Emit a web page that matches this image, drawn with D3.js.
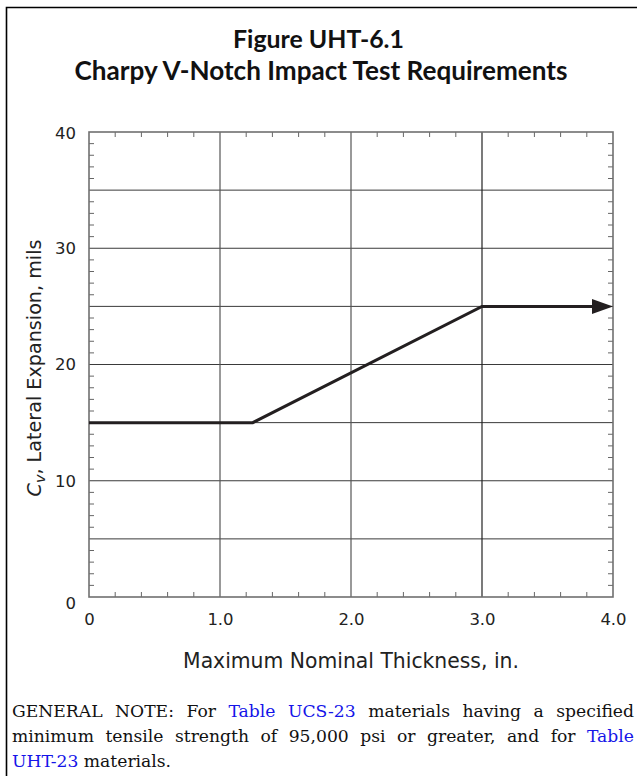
<!DOCTYPE html>
<html><head><meta charset="utf-8">
<script src="https://cdn.jsdelivr.net/npm/d3@7"></script>
<style>body{margin:0;background:#fff;} svg{display:block;}</style>
</head><body>
<script>
// ---- data ----
const titleLines = ["Figure UHT-6.1", "Charpy V-Notch Impact Test Requirements"];
const thickness = [0, 1.25, 3.0, 4.0];          // in.
const lateralExp = [15, 15, 25, 25];            // mils
const xTicks = [0, 1, 2, 3, 4];
const xTickLabels = ["0", "1.0", "2.0", "3.0", "4.0"];
const yTicks = [0, 10, 20, 30, 40];
const yTickLabels = ["0", "10", "20", "30", "40"];
const xGrid = [1, 2, 3];
const yGrid = [5, 10, 15, 20, 25, 30, 35];
const xLabel = "Maximum Nominal Thickness, in.";
const yLabelRest = ", Lateral Expansion, mils";
// note lines: segments [text, isLink]
const noteLine1 = [["GENERAL NOTE: For ", false], ["Table UCS-23", true], [" materials having a specified", false]];
const noteLine2 = [["minimum tensile strength of 95,000 psi or greater, and for ", false], ["Table", true]];
const noteLine3 = [["UHT-23", true], [" materials.", false]];

const W = 637, H = 776;
const svg = d3.select("body").append("svg").attr("width", W).attr("height", H);

svg.append("path").attr("d", `M6.5,${H} V7.5 H${W}`).attr("fill", "none")
  .attr("stroke", "#000").attr("stroke-width", 1.6);

function fit(sel, target) {
  const w = sel.node().getComputedTextLength();
  const fs = +sel.attr("font-size");
  sel.attr("font-size", (fs * target / w).toFixed(2));
}
const titleFont = "Lato, 'Open Sans', sans-serif";
const t1 = svg.append("text").attr("x", 318.5).attr("y", 48).attr("text-anchor", "middle")
  .attr("font-family", titleFont).attr("font-weight", "bold").attr("font-size", 22)
  .attr("fill", "#111").text(titleLines[0]);
const t2 = svg.append("text").attr("x", 321).attr("y", 80).attr("text-anchor", "middle")
  .attr("font-family", titleFont).attr("font-weight", "bold").attr("font-size", 22)
  .attr("fill", "#111").text(titleLines[1]);
fit(t1, 171); fit(t2, 493);

const x = d3.scaleLinear().domain([0, 4]).range([89, 613]);
const y = d3.scaleLinear().domain([0, 40]).range([597, 132]);

const g = svg.append("g");
g.selectAll(".hg").data(yGrid).join("line")
  .attr("x1", x(0)).attr("x2", x(4)).attr("y1", d => y(d)).attr("y2", d => y(d))
  .attr("stroke", "#3a3a3a").attr("stroke-width", 1);
g.selectAll(".vg").data(xGrid).join("line")
  .attr("x1", d => x(d)).attr("x2", d => x(d)).attr("y1", y(0)).attr("y2", y(40))
  .attr("stroke", d => d === 3 ? "#222" : "#555").attr("stroke-width", 1.2);

const xMinor = d3.range(1, 20).map(i => i * 0.2).filter(v => Math.abs(v - Math.round(v)) > 1e-6);
const yMinor = d3.range(1, 40).filter(v => v % 5 !== 0);
const tk = 5, tc = "#666";
g.selectAll(".xb").data(xMinor).join("line")
  .attr("x1", d => x(d)).attr("x2", d => x(d)).attr("y1", y(0)).attr("y2", y(0) - tk)
  .attr("stroke", tc).attr("stroke-width", 1);
g.selectAll(".xt").data(xMinor).join("line")
  .attr("x1", d => x(d)).attr("x2", d => x(d)).attr("y1", y(40)).attr("y2", y(40) + tk)
  .attr("stroke", tc).attr("stroke-width", 1);
g.selectAll(".yl").data(yMinor).join("line")
  .attr("x1", x(0)).attr("x2", x(0) + tk).attr("y1", d => y(d)).attr("y2", d => y(d))
  .attr("stroke", tc).attr("stroke-width", 1);
g.selectAll(".yr").data(yMinor).join("line")
  .attr("x1", x(4)).attr("x2", x(4) - tk).attr("y1", d => y(d)).attr("y2", d => y(d))
  .attr("stroke", tc).attr("stroke-width", 1);

g.append("rect").attr("x", x(0)).attr("y", y(40)).attr("width", x(4) - x(0)).attr("height", y(0) - y(40))
  .attr("fill", "none").attr("stroke", "#707070").attr("stroke-width", 1.6);

const axFont = "'DejaVu Sans', Verdana, sans-serif";
const xAxis = svg.append("g").attr("transform", `translate(0,${y(0)})`)
  .call(d3.axisBottom(x).tickValues(xTicks).tickFormat((d, i) => xTickLabels[i]).tickSize(0).tickPadding(16));
const yAxis = svg.append("g").attr("transform", `translate(${x(0)},0)`)
  .call(d3.axisLeft(y).tickValues(yTicks).tickFormat((d, i) => yTickLabels[i]).tickSize(0).tickPadding(13));
[xAxis, yAxis].forEach(a => {
  a.select(".domain").remove();
  a.selectAll("text").attr("font-family", axFont).attr("font-size", 16.5).attr("fill", "#222");
});
yAxis.selectAll(".tick").filter(d => d === 0).select("text").attr("dy", "0.7em");
yAxis.selectAll(".tick").filter(d => d === 40).select("text").attr("dy", "0.4em");

const n = thickness.length;
const endX = x(thickness[n - 1]), endY = y(lateralExp[n - 1]);
const arrowLen = 21, arrowHalf = 7.5;
const idx = d3.range(n);
svg.append("path")
  .attr("d", d3.line().x(i => i === n - 1 ? endX - arrowLen + 2 : x(thickness[i])).y(i => y(lateralExp[i]))(idx))
  .attr("fill", "none").attr("stroke", "#231f20").attr("stroke-width", 3);
svg.append("path")
  .attr("d", `M${endX},${endY} L${endX - arrowLen},${endY - arrowHalf} L${endX - arrowLen},${endY + arrowHalf} Z`)
  .attr("fill", "#231f20");

const xl = svg.append("text").attr("x", 351).attr("y", 668).attr("text-anchor", "middle")
  .attr("font-family", axFont).attr("font-size", 15).attr("fill", "#222").text(xLabel);
fit(xl, 336);
const yl = svg.append("text").attr("transform", "translate(41,368) rotate(-90)").attr("text-anchor", "middle")
  .attr("font-family", axFont).attr("font-size", 16).attr("fill", "#222");
yl.append("tspan").attr("font-style", "italic").text("C");
yl.append("tspan").attr("font-style", "italic").attr("font-size", 12).attr("dy", 4).text("v");
yl.append("tspan").attr("dy", -4).text(yLabelRest);
{
  const w = yl.node().getComputedTextLength();
  const s = 257 / w;
  yl.attr("font-size", (16 * s).toFixed(2));
  yl.selectAll("tspan").filter((d, i) => i === 1).attr("font-size", (12 * s).toFixed(2));
}

const noteFont = "'DejaVu Serif', 'Liberation Serif', serif";
const left = 12, right = 634;
const lineYs = [717, 742, 767];
const meas = svg.append("text").attr("font-family", noteFont).attr("font-size", 16);
const wlen = (w, fs) => { meas.attr("font-size", fs).text(w); return meas.node().getComputedTextLength(); };
const noteFS = 16 * 155 / wlen("GENERAL NOTE:", 16);
const spaceW = wlen("a a", noteFS) - wlen("aa", noteFS);
const noteLines = [noteLine1, noteLine2, noteLine3];
noteLines.forEach((segs, li) => {
  const words = [];
  segs.forEach(([t, link]) => t.split(" ").filter(w => w.length).forEach(w => words.push({w, link, len: wlen(w, noteFS)})));
  const total = d3.sum(words, o => o.len);
  const last = li === noteLines.length - 1;
  const gap = last ? spaceW : (right - left - total) / (words.length - 1);
  let cx = left;
  words.forEach(o => {
    svg.append("text").attr("x", cx).attr("y", lineYs[li])
      .attr("font-family", noteFont).attr("font-size", noteFS.toFixed(2))
      .attr("fill", o.link ? "#1515e8" : "#111").text(o.w);
    cx += o.len + gap;
  });
});
meas.remove();
</script>
</body></html>
